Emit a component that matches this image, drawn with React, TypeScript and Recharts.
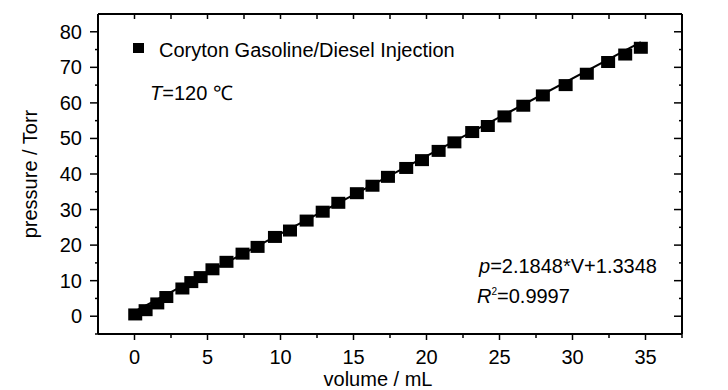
import React from 'react';
import { ComposedChart, Scatter, XAxis, YAxis, ReferenceLine, Legend } from 'recharts';

// volume (mL) vs pressure (Torr)
const volume = [
  0.05, 0.76, 1.56, 2.18, 3.28, 3.89, 4.53, 5.34, 6.3, 7.4, 8.43, 9.62, 10.65, 11.79, 12.89, 13.96, 15.23,
  16.3, 17.36, 18.61, 19.69, 20.83, 21.91, 23.13, 24.2, 25.34, 26.63, 27.97, 29.53, 30.98, 32.44, 33.61, 34.68,
];
const pressure = [
  0.5, 1.7, 3.6, 5.4, 7.8, 9.6, 11.0, 13.2, 15.3, 17.6, 19.5, 22.3, 24.1, 26.9, 29.4, 31.9, 34.6,
  36.7, 39.2, 41.7, 43.9, 46.5, 48.9, 51.8, 53.5, 56.2, 59.2, 62.1, 65.0, 68.2, 71.5, 73.6, 75.5,
];

// linear fit shown on the chart
const slope = 2.1848;
const intercept = 1.3348;

const xDomain: [number, number] = [-2.5, 37.5];
const yDomain: [number, number] = [-5, 85];
const xTicks = [-2.5, 0, 2.5, 5, 7.5, 10, 12.5, 15, 17.5, 20, 22.5, 25, 27.5, 30, 32.5, 35, 37.5];
const yTicks = [-5, 0, 5, 10, 15, 20, 25, 30, 35, 40, 45, 50, 55, 60, 65, 70, 75, 80];

const seriesName = 'Coryton Gasoline/Diesel Injection';

const data = volume.map((v, i) => ({ v, p: pressure[i] }));
const x0 = volume[0];
const x1 = volume[volume.length - 1];

// chart layout
const W = 728;
const H = 390;
const MARGIN = { top: 14, right: 46, bottom: 0, left: 0 };
const Y_AXIS_W = 98;
const X_AXIS_H = 56;
const PLOT_W = W - MARGIN.left - MARGIN.right - Y_AXIS_W;
const PLOT_H = H - MARGIN.top - MARGIN.bottom - X_AXIS_H;

const FONT = '"Liberation Sans", Arial, sans-serif';
const isMajor = (v: number, step: number) => Math.abs(v / step - Math.round(v / step)) < 1e-6;

// bottom ticks + labels; also mirrors each tick onto the top edge of the frame
const BottomTick = ({ x, y, payload }: any) => {
  const v = payload.value;
  const major = isMajor(v, 5);
  const top = y - PLOT_H;
  return (
    <g>
      {v === xDomain[0] && <line x1={x} x2={x + PLOT_W} y1={top} y2={top} stroke="#000" strokeWidth={2} />}
      {v > xDomain[0] && <line x1={x} x2={x} y1={y} y2={y + (major ? 6 : 4)} stroke="#000" strokeWidth={1.5} />}
      {v > xDomain[0] && <line x1={x} x2={x} y1={top} y2={top + 5} stroke="#000" strokeWidth={1.5} />}
      {major && v >= 0 && v <= 35 && (
        <text x={x} y={y + 30} textAnchor="middle" fontSize={20} fontFamily={FONT} fill="#000">
          {v}
        </text>
      )}
    </g>
  );
};

// left ticks + labels; also mirrors each tick onto the right edge of the frame
const LeftTick = ({ x, y, payload }: any) => {
  const v = payload.value;
  const major = isMajor(v, 10);
  const right = x + PLOT_W;
  return (
    <g>
      {v === yDomain[0] && <line x1={right} x2={right} y1={y} y2={y - PLOT_H} stroke="#000" strokeWidth={2} />}
      <line x1={x - (major ? 8 : 3)} x2={x} y1={y} y2={y} stroke="#000" strokeWidth={1.5} />
      {v > yDomain[0] && <line x1={right - (major ? 8 : 3)} x2={right} y1={y} y2={y} stroke="#000" strokeWidth={1.5} />}
      {major && v >= 0 && (
        <text x={x - 16} y={y + 7} textAnchor="end" fontSize={20} fontFamily={FONT} fill="#000">
          {v}
        </text>
      )}
    </g>
  );
};

const SquareDot = ({ cx, cy }: any) => <rect x={cx - 7} y={cy - 6} width={14} height={12} fill="#000" />;

const LegendBox = () => (
  <div style={{ position: 'relative', width: 340, height: 22, fontFamily: FONT, fontSize: 20 }}>
    <span style={{ position: 'absolute', left: 5, top: 3, width: 11, height: 10, background: '#000' }} />
    <span style={{ position: 'absolute', left: 31, top: 0, lineHeight: '20px', whiteSpace: 'nowrap' }}>
      {seriesName}
    </span>
  </div>
);

const textStyle: React.CSSProperties = { position: 'absolute', fontSize: 20, lineHeight: '20px', whiteSpace: 'nowrap', color: '#000' };

export default function App() {
  return (
    <div style={{ position: 'absolute', left: 0, top: 0, width: W, height: H, background: '#fff', fontFamily: FONT }}>
      <ComposedChart width={W} height={H} data={data} margin={MARGIN}>
        <XAxis
          xAxisId="bottom"
          dataKey="v"
          type="number"
          domain={xDomain}
          ticks={xTicks}
          interval={0}
          allowDataOverflow
          height={X_AXIS_H}
          tickSize={0}
          tickMargin={0}
          tickLine={false}
          axisLine={{ stroke: '#000', strokeWidth: 2 }}
          tick={<BottomTick />}
        />
        <YAxis
          yAxisId="left"
          dataKey="p"
          type="number"
          domain={yDomain}
          ticks={yTicks}
          interval={0}
          allowDataOverflow
          width={Y_AXIS_W}
          tickSize={0}
          tickMargin={0}
          tickLine={false}
          axisLine={{ stroke: '#000', strokeWidth: 2 }}
          tick={<LeftTick />}
        />
        <ReferenceLine
          xAxisId="bottom"
          yAxisId="left"
          segment={[
            { x: x0, y: slope * x0 + intercept },
            { x: x1, y: slope * x1 + intercept },
          ]}
          stroke="#000"
          strokeWidth={2}
        />
        <Scatter
          xAxisId="bottom"
          yAxisId="left"
          name={seriesName}
          dataKey="p"
          fill="#000"
          shape={<SquareDot />}
          isAnimationActive={false}
        />
        <Legend
          layout="horizontal"
          align="center"
          verticalAlign="middle"
          wrapperStyle={{ top: 40, left: 128, width: 340, height: 22 }}
          content={<LegendBox />}
        />
      </ComposedChart>
      <div style={{ ...textStyle, left: 378, top: 369, transform: 'translateX(-50%)' }}>volume / mL</div>
      <div style={{ ...textStyle, left: 30, top: 174, transform: 'translate(-50%, -50%) rotate(-90deg)' }}>pressure / Torr</div>
      <div style={{ ...textStyle, left: 150, top: 83 }}>
        <i>T</i>=120 ℃
      </div>
      <div style={{ ...textStyle, left: 479, top: 256 }}>
        <i>p</i>=2.1848*V+1.3348
      </div>
      <div style={{ ...textStyle, left: 477, top: 286 }}>
        <i>R</i>
        <span style={{ fontSize: 10, verticalAlign: 'top', lineHeight: '10px', position: 'relative', top: 1 }}>2</span>
        =0.9997
      </div>
    </div>
  );
}
